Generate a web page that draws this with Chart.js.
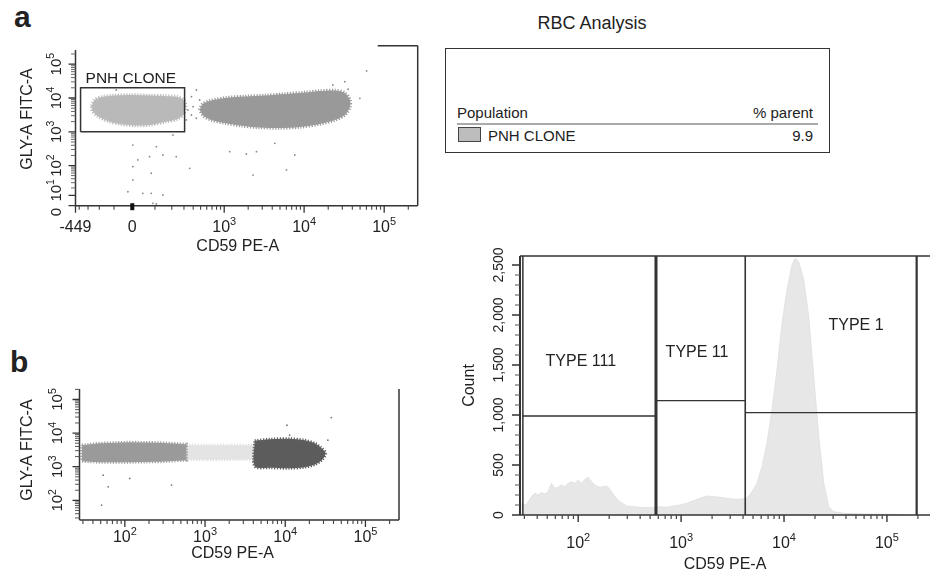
<!DOCTYPE html>
<html>
<head>
<meta charset="utf-8">
<title>RBC Analysis</title>
<script src="https://cdn.jsdelivr.net/npm/chart.js@4.4.1/dist/chart.umd.min.js"></script>
<style>
html, body { margin:0; padding:0; background:#fff; }
body { width:931px; height:578px; position:relative; overflow:hidden; font-family:'Liberation Sans', Arial, Helvetica, sans-serif; color:#222; }
canvas { position:absolute; left:0; top:0; }
.t { position:absolute; white-space:nowrap; line-height:1; }
</style>
</head>
<body>
<div class="t" style="left:14px;top:1.6px;font-size:30px;font-weight:bold;">a</div>
<div class="t" style="left:10px;top:346.6px;font-size:30px;font-weight:bold;">b</div>
<div class="t" style="left:592px;top:13.8px;font-size:18px;transform:translateX(-50%);">RBC Analysis</div>
<div style="position:absolute;left:445px;top:48px;width:385px;height:105px;border:1.5px solid #333;box-sizing:border-box;"></div>
<div class="t" style="left:457px;top:105.3px;font-size:15px;">Population</div>
<div class="t" style="right:118px;top:105.3px;font-size:15px;">% parent</div>
<div style="position:absolute;left:457px;top:123px;width:361px;height:2px;background:#aaa;"></div>
<div style="position:absolute;left:458px;top:127px;width:23px;height:15px;box-sizing:border-box;background:#bdbdbd;border:1px solid #444;"></div>
<div class="t" id="popName" style="left:488px;top:127.8px;font-size:15px;"></div>
<div class="t" id="popValue" style="right:118px;top:127.8px;font-size:15px;"></div>
<canvas id="chartA" width="931" height="578"></canvas>
<canvas id="chartB" width="931" height="578"></canvas>
<canvas id="chartH" width="931" height="578"></canvas>
<script>
// ======================= DATA =======================
// Table
const tablePopulations = ['PNH CLONE'];
const tableParentPct = [9.9];

// Panel a : GLY-A FITC-A vs CD59 PE-A (biexponential axes)
const aPnhX  = [-266,-239,-183,-97,-14,74,153,244,297,316,297,244,153,74,9.5,-68,-141,-214,-257];
const aPnhY  = [5800,8730,10700,11860,12270,11860,11460,10700,8730,5800,3370,2400,1956,1593,1539,1707,2093,2942,4126];
const aMainX = [486,531,653,1015,1813,3223,5734,10210,15720,24210,32300,37300,37300,32300,24210,15720,8830,4960,2790,1568,1015,693,548];
const aMainY = [4420,6650,8150,10000,11080,11860,13130,14540,16100,16660,14060,8730,5420,3140,2240,1707,1389,1298,1343,1539,1825,2240,2942];
const aDotsX = [60300,32300,22850,49700,35500,7650,6020,1174,1900,2540,2300,4300,379,440,339,379,440,398,486,323,208,233,107,143,74,23,2.5,82,2.5,-23,44,82,143,90,107,2.5,359,-87];
const aDotsY = [62900,30300,24200,9800,18100,206,74,258,221,258,52,457,10900,17200,4420,3140,2515,5530,8730,2240,806,184,363,206,184,147,93,59,36.6,14.4,12.4,12.4,10.4,2.1,1.5,407,83,17200];
const aGateX = [-383, 306];
const aGateY = [1000, 20000];
const aGateName = 'PNH CLONE';
const aXTicks = [-449, 0, 1e3, 1e4, 1e5];
const aXTickLabels = ['-449', '0', '10³', '10⁴', '10⁵'];
const aYTicks = [0, 10, 100, 1e3, 1e4, 1e5];
const aYTickLabels = ['0', '10¹', '10²', '10³', '10⁴', '10⁵'];

// Panel b : GLY-A FITC-A vs CD59 PE-A (log axes)
const bLowX  = [29.1,48.9,115.4,272.7,586,586,272.7,115.4,48.9,29.1];
const bLowY  = [4360,5000,5350,5170,4670,1566,1413,1365,1365,1462];
const bMidX  = [586,4160,4160,586];
const bMidY  = [4360,4360,1640,1600];
const bHighX = [4160,6390,11350,17450,23250,28400,31850,29200,23900,17450,11350,6390,4160];
const bHighY = [5930,6560,6790,6140,5000,3560,2525,1675,1190,970,906,937,1040];
const bDotsX = [37500,10500,53.7,115,62,382,51.3,34000,11350];
const bDotsY = [28900,17100,562,449,253,284,72.4,6140,8630];
const logTicks = [1e2, 1e3, 1e4, 1e5];
const logTickLabels = ['10²', '10³', '10⁴', '10⁵'];

// Histogram : Count vs CD59 PE-A
const histX = [28,31.4,35.1,37.8,40.7,43.9,47.3,51.0,55.0,59.3,63.9,68.9,74.2,80.0,86.1,92.8,100,107.8,116.1,125.1,134.9,145.3,156.6,168.7,181.8,195.9,211.1,227.5,254.5,295.8,343.7,399.3,463.9,538.9,624.3,725.4,841.8,977,1135,1318,1531,1778,2065,2399,2786,3236,3758,4365,4880,5458,6105,6826,7635,8545,9570,10690,11970,12880,13900,15560,17380,19450,21780,24320,27230,30480,38110,59700,108600,157800];
const histCount = [110,100,183,217,200,223,210,233,317,267,277,300,283,317,333,317,350,317,357,377,333,300,283,277,290,277,233,183,133,90,83,77,73,73,83,77,90,100,117,143,167,190,183,177,167,157,157,167,233,317,483,717,1050,1450,1917,2250,2500,2567,2533,2350,1983,1383,783,317,83,33,17,10,7,0];
const gateBounds = [29, 570, 4200, 194500];
const gateLevels = [990, 1143, 1023];
const gateNames = ['TYPE 111', 'TYPE 11', 'TYPE 1'];
const countTicks = [0, 500, 1000, 1500, 2000, 2500];
const countTickLabels = ['0', '500', '1,000', '1,500', '2,000', '2,500'];

// ======================= SETUP =======================
document.getElementById('popName').textContent = tablePopulations[0];
document.getElementById('popValue').textContent = tableParentPct[0].toFixed(1);

const FONT = "'Liberation Sans', Arial, Helvetica, sans-serif";
const INK = '#222';
const AXIS = '#333';
const SUP = '⁰¹²³⁴⁵⁶⁷⁸⁹';

function minorLog(lo, hi) {
  const out = [];
  for (let e = 0; e <= 5; e++) for (let m = 2; m <= 9; m++) {
    const v = m * Math.pow(10, e);
    if (v >= lo && v <= hi) out.push(v);
  }
  return out;
}
function pts(xs, ys, close) {
  const p = xs.map((x, i) => ({x: x, y: ys[i]}));
  if (close) p.push({x: xs[0], y: ys[0]});
  return p;
}
// split '10³' into base '10' and exponent '3'
function splitLabel(s) {
  let i = s.length;
  while (i > 0 && SUP.indexOf(s[i - 1]) >= 0) i--;
  const exp = s.slice(i).split('').map(c => String(SUP.indexOf(c))).join('');
  return [s.slice(0, i), exp];
}
function seg(ctx, x1, y1, x2, y2, w, color) {
  ctx.save(); ctx.strokeStyle = color || AXIS; ctx.lineWidth = w;
  ctx.beginPath(); ctx.moveTo(x1, y1); ctx.lineTo(x2, y2); ctx.stroke(); ctx.restore();
}
function drawTicks(ctx, sc, vals, len, w, color) {
  ctx.save(); ctx.strokeStyle = color; ctx.lineWidth = w; ctx.beginPath();
  vals.forEach(v => {
    const p = sc.getPixelForValue(v);
    if (sc.isHorizontal()) { ctx.moveTo(p, sc.top); ctx.lineTo(p, sc.top + len); }
    else { ctx.moveTo(sc.right, p); ctx.lineTo(sc.right - len, p); }
  });
  ctx.stroke(); ctx.restore();
}
// tick labels of a horizontal scale, positioned by the scale's own ticks
function drawXLabels(ctx, sc, labels, dy, size, expSize, raise) {
  ctx.save(); ctx.fillStyle = INK; ctx.textBaseline = 'alphabetic'; ctx.textAlign = 'left';
  sc.ticks.forEach((t, i) => {
    const [b, e] = splitLabel(labels[i]);
    ctx.font = size + 'px ' + FONT; const wb = ctx.measureText(b).width;
    ctx.font = expSize + 'px ' + FONT; const we = e ? ctx.measureText(e).width : 0;
    const x0 = sc.getPixelForValue(t.value) - (wb + we) / 2, y0 = sc.top + dy;
    ctx.font = size + 'px ' + FONT; ctx.fillText(b, x0, y0);
    if (e) { ctx.font = expSize + 'px ' + FONT; ctx.fillText(e, x0 + wb, y0 - raise); }
  });
  ctx.restore();
}
// rotated tick labels of a vertical scale
function drawYLabels(ctx, sc, labels, dx, size, expSize, raise, shifts) {
  sc.ticks.forEach((t, i) => {
    const [b, e] = splitLabel(labels[i]);
    ctx.save(); ctx.fillStyle = INK; ctx.textBaseline = 'alphabetic'; ctx.textAlign = 'left';
    ctx.font = size + 'px ' + FONT; const wb = ctx.measureText(b).width;
    ctx.font = expSize + 'px ' + FONT; const we = e ? ctx.measureText(e).width : 0;
    ctx.translate(sc.right - dx, sc.getPixelForValue(t.value) + (shifts ? shifts[i] : 0));
    ctx.rotate(-Math.PI / 2);
    const x0 = -(wb + we) / 2;
    ctx.font = size + 'px ' + FONT; ctx.fillText(b, x0, 0);
    if (e) { ctx.font = expSize + 'px ' + FONT; ctx.fillText(e, x0 + wb, -raise); }
    ctx.restore();
  });
}

// Biexponential scale (asinh based) for panel a
const BIEX = { x: {pos: 143, neg: 182.5, ticks: aXTicks}, y: {pos: 13.1, neg: 13.1, ticks: aYTicks} };
class BiexScale extends Chart.LinearScale {
  tf(v) { const w = BIEX[this.id]; return v >= 0 ? Math.asinh(v / w.pos) : -Math.asinh(-v / w.neg); }
  itf(t) { const w = BIEX[this.id]; return t >= 0 ? w.pos * Math.sinh(t) : -w.neg * Math.sinh(-t); }
  determineDataLimits() { this.min = this.tf(this.options.min); this.max = this.tf(this.options.max); }
  buildTicks() { return BIEX[this.id].ticks.map(v => ({value: v})); }
  getPixelForValue(v) {
    if (v === null || v === undefined || isNaN(v)) return NaN;
    return this.getPixelForDecimal((this.tf(v) - this._startValue) / this._valueRange);
  }
  getValueForPixel(p) { return this.itf(this._startValue + this.getDecimalForPixel(p) * this._valueRange); }
}
BiexScale.id = 'biex';
BiexScale.defaults = {};
Chart.register(BiexScale);

const common = {
  responsive: false, animation: false, devicePixelRatio: 1, events: [],
  plugins: { legend: {display: false}, tooltip: {enabled: false} }
};
const noGrid = { display: false, drawTicks: false };
const tickFont = s => ({ family: FONT, size: s });
// cloud style: solid core with a speckled (dotted) rim
function cloud(xs, ys, fillColor, rimColor, extra) {
  return Object.assign({ type: 'line', data: pts(xs, ys, true), fill: 'shape', backgroundColor: fillColor,
    borderColor: rimColor, borderWidth: 3.5, borderDash: [1.2, 1.6], borderCapStyle: 'butt',
    pointRadius: 0, tension: 0.3, order: 10 }, extra || {});
}

// ======================= PANEL a =======================
const aXMinor = [-400, -300, -200, -100, 100].concat(minorLog(200, 2e5));
const aYMinor = minorLog(20, 2e5);
const aYLabelShift = [6.3, -5, 0, 0, 0, 0];

new Chart(document.getElementById('chartA'), {
  type: 'scatter',
  data: { datasets: [
    cloud(aMainX, aMainY, '#999999', '#9c9c9c'),
    cloud(aPnhX, aPnhY, '#b9b9b9', '#bcbcbc'),
    { type: 'scatter', data: pts(aDotsX, aDotsY), pointRadius: 0.9, backgroundColor: '#8a8a8a', borderWidth: 0, order: 5 },
    { type: 'line', data: [{x: aGateX[0], y: aGateY[0]}, {x: aGateX[1], y: aGateY[0]}, {x: aGateX[1], y: aGateY[1]}, {x: aGateX[0], y: aGateY[1]}, {x: aGateX[0], y: aGateY[0]}],
      fill: false, borderColor: '#333', borderWidth: 1.5, pointRadius: 0, order: 0 }
  ]},
  options: Object.assign({}, common, {
    layout: { padding: { left: 75.5 - 70, top: 50, right: 931 - 417.7, bottom: 578 - 205.7 - 60 } },
    scales: {
      x: { type: 'biex', min: -449, max: 262144, grid: noGrid, border: {display: false},
        afterFit: s => { s.height = 60; },
        ticks: { display: false, autoSkip: false, maxRotation: 0, minRotation: 0 },
        title: { display: true, text: 'CD59 PE-A    ', font: tickFont(16), color: INK, padding: {top: 0, bottom: 9.1} } },
      y: { type: 'biex', min: 0, max: 262144, grid: noGrid, border: {display: false},
        afterFit: s => { s.width = 70; },
        ticks: { display: false, autoSkip: false },
        title: { display: true, text: '    GLY-A FITC-A', font: tickFont(16), color: INK, padding: {top: 12.9, bottom: 0} } }
    }
  }),
  plugins: [{ id: 'frameA', afterDraw(chart) {
    const {ctx, chartArea: ca, scales: {x, y}} = chart;
    seg(ctx, ca.left, ca.top, ca.left, ca.bottom, 1.5);
    seg(ctx, ca.left, ca.bottom, ca.right, ca.bottom, 1.5);
    seg(ctx, ca.right, ca.top - 4.3, ca.right, ca.bottom, 1.5);
    seg(ctx, ca.right - 40, ca.top - 4.3, ca.right, ca.top - 4.3, 1.5);
    drawTicks(ctx, x, aXMinor, 4, 1.1, '#444');
    drawTicks(ctx, x, aXTicks.filter(v => v !== 0), 7, 1.3, '#333');
    const z = x.getPixelForValue(0);
    seg(ctx, z, ca.bottom - 2.5, z, ca.bottom + 4.5, 4, '#111');
    drawTicks(ctx, y, aYMinor, 4.5, 1, '#666');
    drawTicks(ctx, y, aYTicks, 7, 1.3, '#333');
    drawXLabels(ctx, x, aXTickLabels, 26.3, 16, 11, 7);
    drawYLabels(ctx, y, aYTickLabels, 15, 15, 10.5, 6.5, aYLabelShift);
    ctx.save(); ctx.font = '15.5px ' + FONT; ctx.fillStyle = INK; ctx.textBaseline = 'alphabetic';
    ctx.fillText(aGateName, x.getPixelForValue(aGateX[0]) + 5, y.getPixelForValue(aGateY[1]) - 4.5);
    ctx.restore();
  }}]
});

// ======================= PANEL b =======================
const logMinor = minorLog(30, 2e5);
new Chart(document.getElementById('chartB'), {
  type: 'scatter',
  data: { datasets: [
    cloud(bLowX, bLowY, '#9a9a9a', '#9e9e9e', {tension: 0, borderWidth: 3}),
    cloud(bMidX, bMidY, '#e4e4e4', '#e2e2e2', {tension: 0, borderWidth: 3}),
    cloud(bHighX, bHighY, '#5c5c5c', '#606060', {borderWidth: 3, order: 9}),
    { type: 'scatter', data: pts(bDotsX, bDotsY), pointRadius: 0.9, backgroundColor: '#777', borderWidth: 0, order: 5 }
  ]},
  options: Object.assign({}, common, {
    layout: { padding: { left: 79.5 - 70, top: 389, right: 931 - 399, bottom: 578 - 520 - 50 } },
    scales: {
      x: { type: 'logarithmic', min: 27.2, max: 262144, bounds: 'data', grid: noGrid, border: {display: false},
        afterBuildTicks: s => { s.ticks = logTicks.map(v => ({value: v})); },
        afterFit: s => { s.height = 50; },
        ticks: { display: false, autoSkip: false, maxRotation: 0, minRotation: 0 },
        title: { display: true, text: 'CD59 PE-A   ', font: tickFont(16), color: INK, padding: {top: 0, bottom: 6.4} } },
      y: { type: 'logarithmic', min: 26, max: 205000, bounds: 'data', grid: noGrid, border: {display: false},
        afterBuildTicks: s => { s.ticks = logTicks.map(v => ({value: v})); },
        afterFit: s => { s.width = 70; },
        ticks: { display: false, autoSkip: false },
        title: { display: true, text: '  GLY-A FITC-A', font: tickFont(16), color: INK, padding: {top: 8.9, bottom: 0} } }
    }
  }),
  plugins: [{ id: 'frameB', afterDraw(chart) {
    const {ctx, chartArea: ca, scales: {x, y}} = chart;
    seg(ctx, ca.left, ca.top, ca.left, ca.bottom, 1.5);
    seg(ctx, ca.left, ca.bottom, ca.right, ca.bottom, 1.5);
    seg(ctx, ca.right, ca.top, ca.right, ca.bottom, 1.5);
    drawTicks(ctx, x, logMinor, 4, 1.1, '#444');
    drawTicks(ctx, x, logTicks, 7, 1.3, '#333');
    drawTicks(ctx, y, logMinor, 4.5, 1, '#555');
    drawTicks(ctx, y, logTicks, 7, 1.3, '#333');
    drawXLabels(ctx, x, logTickLabels, 21.7, 16, 11, 7);
    drawYLabels(ctx, y, logTickLabels, 17.5, 15, 10.5, 6.5);
  }}]
});

// ======================= HISTOGRAM =======================
const COUNT_MAX = 2590;
const countMinor = [];
for (let v = 100; v < COUNT_MAX; v += 100) if (v % 500) countMinor.push(v);
const gateWidths = [1.5, 3, 1.6, 2.2];
const histSets = [
  { type: 'line', data: pts(histX, histCount), fill: 'origin', backgroundColor: '#e7e7e7', borderColor: '#e2e2e2', borderWidth: 1, pointRadius: 0, order: 10 }
];
gateBounds.forEach((b, i) => histSets.push({ type: 'line', data: [{x: b, y: 0}, {x: b, y: COUNT_MAX}], borderColor: '#333', borderWidth: gateWidths[i], pointRadius: 0, fill: false, order: 0 }));
gateLevels.forEach((h, i) => histSets.push({ type: 'line', data: [{x: gateBounds[i], y: h}, {x: gateBounds[i + 1], y: h}], borderColor: '#333', borderWidth: 1.3, pointRadius: 0, fill: false, order: 0 }));
const gateLabelAt = [{x: 106, y: 1533}, {x: 1428, y: 1623}, {x: 50100, y: 1890}];

new Chart(document.getElementById('chartH'), {
  type: 'line',
  data: { datasets: histSets },
  options: Object.assign({}, common, {
    layout: { padding: { left: 520 - 70, top: 256, right: 1, bottom: 0 } },
    scales: {
      x: { type: 'logarithmic', min: 27.2, max: 262144, bounds: 'data', grid: noGrid, border: {display: false},
        afterBuildTicks: s => { s.ticks = logTicks.map(v => ({value: v})); },
        afterFit: s => { s.height = 63; },
        ticks: { display: false, autoSkip: false, maxRotation: 0, minRotation: 0 },
        title: { display: true, text: 'CD59 PE-A', font: tickFont(16), color: INK, padding: {top: 0, bottom: 3.4} } },
      y: { type: 'linear', min: 0, max: COUNT_MAX, grid: noGrid, border: {display: false},
        afterBuildTicks: s => { s.ticks = countTicks.map(v => ({value: v})); },
        afterFit: s => { s.width = 70; },
        ticks: { display: false, autoSkip: false },
        title: { display: true, text: 'Count', font: tickFont(16), color: INK, padding: {top: 10.4, bottom: 0} } }
    }
  }),
  plugins: [{ id: 'frameH', afterDraw(chart) {
    const {ctx, chartArea: ca, scales: {x, y}} = chart;
    seg(ctx, ca.left, ca.top, ca.left, ca.bottom, 2);
    seg(ctx, ca.left, ca.bottom, ca.right, ca.bottom, 1.5);
    seg(ctx, ca.left, ca.top, ca.right, ca.top, 1.5);
    drawTicks(ctx, x, logMinor, 4, 1.2, '#444');
    drawTicks(ctx, x, logTicks, 7, 1.4, '#333');
    drawTicks(ctx, y, countMinor, 5, 1.1, '#555');
    drawTicks(ctx, y, countTicks, 8, 1.3, '#333');
    drawXLabels(ctx, x, logTickLabels, 33.3, 16, 11, 7);
    drawYLabels(ctx, y, countTickLabels, 17, 14, 10, 6);
    ctx.save(); ctx.font = '16px ' + FONT; ctx.fillStyle = INK; ctx.textAlign = 'center'; ctx.textBaseline = 'middle';
    gateNames.forEach((n, i) => ctx.fillText(n, x.getPixelForValue(gateLabelAt[i].x), y.getPixelForValue(gateLabelAt[i].y)));
    ctx.restore();
  }}]
});
</script>
</body>
</html>
